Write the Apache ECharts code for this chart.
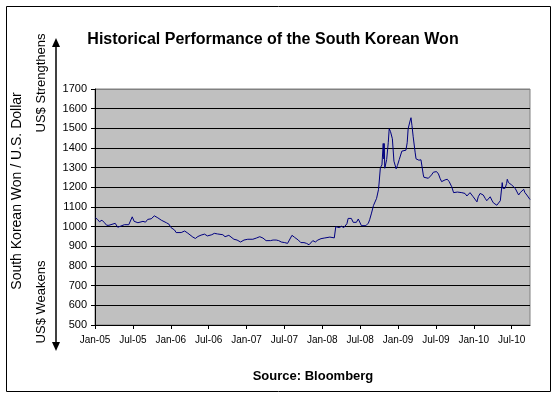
<!DOCTYPE html>
<html>
<head>
<meta charset="utf-8">
<title>Historical Performance of the South Korean Won</title>
<script src="https://cdn.jsdelivr.net/npm/echarts@6/dist/echarts.min.js"></script>
<style>
  html, body { margin: 0; padding: 0; background: #fff; }
  #chart { width: 557px; height: 398px; }
</style>
</head>
<body>
<div id="chart"></div>
<script>
// months elapsed since Jan 2005
const months = [
  0.05, 0.4, 0.7, 1.1, 1.5, 1.85, 2.2, 2.5, 3.2, 3.6, 4.1, 4.65, 5.35, 5.9, 6.2, 6.8, 7.0, 7.6, 8.0, 8.35,
  8.9, 9.4, 9.95, 10.5, 10.8, 11.3, 11.7, 12.05, 12.6, 12.85, 13.65, 14.2, 14.7, 15.0, 15.5, 15.9, 16.3, 16.8,
  17.35, 17.8, 18.1, 18.5, 18.9, 19.4, 19.7, 20.25, 20.6, 21.2, 21.5, 22.0, 22.5, 23.06, 23.6, 24.2, 25.0,
  25.55, 26.1, 26.6, 27.1, 27.8, 28.2, 28.7, 29.1, 29.5, 30.05, 30.5, 30.8, 31.2, 31.6, 32.2, 32.6, 33.1,
  33.5, 33.9, 34.2, 34.5, 34.9, 35.3, 35.8, 36.3, 37.2, 37.9, 38.14, 38.35, 38.67, 39.05, 39.4, 39.7, 39.9,
  40.1, 40.4, 40.6, 40.9, 41.2, 41.4, 41.7, 41.95, 42.2, 42.5, 42.9, 43.3, 43.5, 43.8, 44.1, 44.3, 44.6,
  44.9, 45.0, 45.2, 45.45, 45.65, 45.75, 45.8, 45.9, 46.2, 46.45, 46.6, 46.8, 47.1, 47.35, 47.7, 47.9,
  48.2, 48.6, 48.9, 49.25, 49.45, 49.6, 49.9, 50.05, 50.2, 50.4, 50.7, 50.85, 51.3, 51.63, 51.85, 52.0,
  52.1, 52.4, 52.8, 53.06, 53.3, 53.6, 53.9, 54.1, 54.4, 54.65, 54.9, 55.2, 55.45, 55.8, 56.1, 56.5, 56.8,
  57.0, 57.4, 57.7, 58.1, 58.35, 58.6, 58.9, 59.1, 59.4, 59.7, 59.9, 60.2, 60.5, 60.7, 61.0, 61.25, 61.5,
  61.8, 62.05, 62.3, 62.6, 62.85, 63.1, 63.4, 63.65, 63.9, 64.2, 64.3, 64.5, 64.6, 64.8, 64.95, 65.2, 65.3,
  65.5, 65.8, 66.0, 66.3, 66.55, 66.8, 67.1, 67.35, 67.6, 67.9, 68.1, 68.4, 68.6, 68.9
]

// won per US dollar
const won = [
  1045, 1037, 1025, 1033, 1020, 1007, 1007, 1017, 1017, 997, 1003, 1010, 1010, 1050, 1027, 1020, 1017, 1027, 1023, 1037,
  1040, 1055, 1045, 1033, 1037, 1020, 1013, 995, 983, 970, 970, 978, 967, 957, 947, 940, 950, 957,
  962, 953, 949, 959, 966, 963, 963, 959, 949, 956, 949, 936, 932, 922, 932, 936, 936,
  942, 949, 942, 929, 929, 932, 932, 929, 922, 919, 915, 925, 956, 946, 932, 919, 919,
  915, 908, 912, 929, 922, 932, 939, 942, 947, 943, 1000, 1005, 995, 1002, 995, 1002, 1015,
  1042, 1032, 1042, 1022, 1032, 1022, 1039, 1049, 1005, 1008, 1005, 1018, 1035, 1069, 1107, 1110, 1144,
  1188, 1222, 1300, 1314, 1423, 1344, 1423, 1297, 1342, 1427, 1498, 1484, 1447, 1333, 1294, 1311,
  1342, 1384, 1379, 1389, 1427, 1498, 1537, 1554, 1515, 1457, 1379, 1345, 1338, 1340, 1337, 1263,
  1251, 1255, 1246, 1251, 1263, 1277, 1272, 1280, 1268, 1246, 1229, 1224, 1238, 1241, 1229, 1203, 1173,
  1169, 1176, 1178, 1173, 1166, 1169, 1156, 1159, 1173, 1173, 1152, 1144, 1126, 1152, 1169, 1173, 1161,
  1144, 1132, 1135, 1152, 1135, 1121, 1115, 1109, 1111, 1132, 1135, 1224, 1195, 1203, 1195, 1220, 1241,
  1224, 1234, 1212, 1203, 1195, 1195, 1161, 1173, 1178, 1190, 1173, 1161, 1152, 1138
]

const tickLabels = [
  'Jan-05', 'Jul-05', 'Jan-06', 'Jul-06', 'Jan-07', 'Jul-07',
  'Jan-08', 'Jul-08', 'Jan-09', 'Jul-09', 'Jan-10', 'Jul-10'
]
const tickMonths = tickLabels.map((_, i) => i * 6)

const font = '"Liberation Sans", Arial, sans-serif'

const chart = echarts.init(document.getElementById('chart'))

// the top line of the plot is the grey border, not a black gridline
const splitColors = []
for (let v = 500; v <= 1700; v += 100) splitColors.push(v === 1700 ? '#808080' : '#000')

const option = {
  animation: false,
  backgroundColor: '#fff',
  textStyle: { fontFamily: font },
  grid: {
    left: 95,
    top: 89,
    width: 435,
    height: 236,
    show: true,
    backgroundColor: '#C0C0C0',
    borderColor: '#808080',
    borderWidth: 1,
  },
  xAxis: {
    type: 'value',
    min: 0,
    max: 68.9,
    interval: 6,
    axisLine: { show: true, lineStyle: { color: '#000', width: 1 } },
    axisTick: { show: true, length: 4, customValues: tickMonths, lineStyle: { color: '#000' } },
    axisLabel: {
      customValues: tickMonths,
      margin: 10,
      color: '#000',
      fontSize: 10,
      fontFamily: font,
      formatter: (v) => tickLabels[Math.round(v / 6)] || '',
    },
    splitLine: { show: false },
  },
  yAxis: {
    type: 'value',
    min: 500,
    max: 1700,
    interval: 100,
    axisLine: { show: true, lineStyle: { color: '#000', width: 1 } },
    axisTick: { show: true, length: 4, lineStyle: { color: '#000' } },
    axisLabel: {
      margin: 8,
      color: '#000',
      fontSize: 11,
      fontFamily: font,
      formatter: (v) => String(v),
    },
    splitLine: { show: true, lineStyle: { color: splitColors, width: 1 } },
  },
  series: [
    {
      type: 'line',
      data: months.map((m, i) => [m, won[i]]),
      showSymbol: false,
      lineStyle: { color: '#000080', width: 1 },
      z: 3,
    },
  ],
  graphic: [
    {
      type: 'rect',
      shape: { x: 6.5, y: 6.5, width: 544, height: 385 },
      style: { fill: 'none', stroke: '#000', lineWidth: 1 },
      silent: true,
    },
    {
      type: 'text',
      x: 273, y: 40,
      style: {
        text: 'Historical Performance of the South Korean Won',
        font: 'bold 16px ' + font,
        fill: '#000',
        textAlign: 'center',
        textVerticalAlign: 'middle',
      },
    },
    {
      type: 'text',
      x: 313, y: 376,
      style: {
        text: 'Source: Bloomberg',
        font: 'bold 13px ' + font,
        fill: '#000',
        textAlign: 'center',
        textVerticalAlign: 'middle',
      },
    },
    {
      type: 'text',
      x: 17, y: 191,
      rotation: Math.PI / 2,
      style: {
        text: 'South Korean Won / U.S. Dollar',
        font: '14px ' + font,
        fill: '#000',
        textAlign: 'center',
        textVerticalAlign: 'middle',
      },
    },
    {
      type: 'text',
      x: 41, y: 83,
      rotation: Math.PI / 2,
      style: {
        text: 'US$ Strengthens',
        font: '13px ' + font,
        fill: '#000',
        textAlign: 'center',
        textVerticalAlign: 'middle',
      },
    },
    {
      type: 'text',
      x: 41, y: 302,
      rotation: Math.PI / 2,
      style: {
        text: 'US$ Weakens',
        font: '13px ' + font,
        fill: '#000',
        textAlign: 'center',
        textVerticalAlign: 'middle',
      },
    },
    {
      type: 'line',
      shape: { x1: 56, y1: 46, x2: 56, y2: 343 },
      style: { stroke: '#000', lineWidth: 1.5 },
    },
    {
      type: 'polygon',
      shape: { points: [[52, 47], [56, 38], [60, 47]] },
      style: { fill: '#000' },
    },
    {
      type: 'polygon',
      shape: { points: [[52, 342], [56, 351], [60, 342]] },
      style: { fill: '#000' },
    },
  ],
}

chart.setOption(option)
</script>
</body>
</html>
